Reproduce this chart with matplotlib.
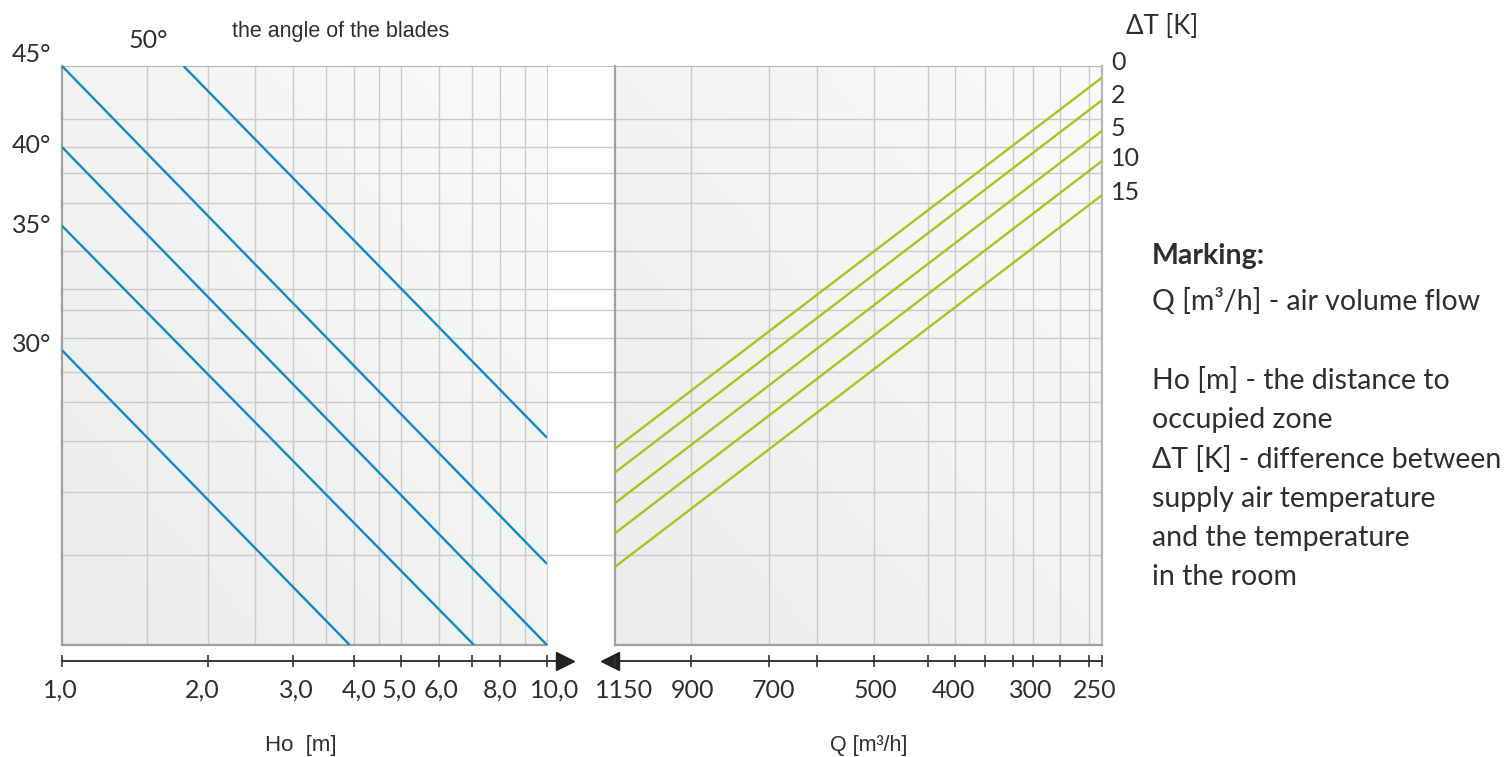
import matplotlib
matplotlib.use("Agg")
import matplotlib.pyplot as plt
import numpy as np
from matplotlib.colors import LinearSegmentedColormap
from matplotlib.ticker import NullLocator, NullFormatter

# ---- data (y in chart units: 0 = bottom, 100 = top) ----
ho_ticks = [1, 2, 3, 4, 5, 6, 7, 8, 10]
ho_labels = ['1,0', '2,0', '3,0', '4,0', '5,0', '6,0', '', '8,0', '10,0']
ho_grid = [1.5, 2, 2.5, 3, 3.5, 4, 4.5, 5, 6, 7, 8, 9]

q_grid = [900, 700, 600, 500, 420, 385, 350, 320, 300, 275, 250]
q_label_pos = [1150, 900, 700, 500, 385, 300, 250]
q_labels = ['1150', '900', '700', '500', '400', '300', '250']
q_min, q_max = 240, 1150

y_grid = [90.8, 86.0, 81.5, 76.3, 68.0, 61.5, 57.9, 53.0, 47.2, 42.0, 35.2, 26.4, 15.5]

blade_angles = ['50°', '45°', '40°', '35°', '30°']
blade_ho_start = [1.78, 1.0, 1.0, 1.0, 1.0]
blade_ho_end = [10.0, 10.0, 10.0, 7.07, 3.92]
blade_y_start = [100, 100, 86.0, 72.4, 50.9]
blade_y_end = [35.8, 14.0, 0, 0, 0]

dt_labels = ['0', '2', '5', '10', '15']
dt_y_at_1150 = [33.9, 29.8, 24.5, 19.3, 13.5]
dt_y_at_240 = [98.0, 94.1, 88.8, 83.6, 77.7]

marking = ["Q [m³/h] - air volume flow", "", "Ho [m] - the distance to", "occupied zone",
           "ΔT [K] - difference between", "supply air temperature",
           "and the temperature", "in the room"]

# ---- styles ----
BLUE = '#1089cf'
GREEN = '#a6c61e'
GRID = '#cbcbcb'
TXT = '#2e2e2e'
NUM_FONT = ['Lato', 'DejaVu Sans']
ARIAL = ['Liberation Sans', 'DejaVu Sans']
CAL = ['Lato', 'DejaVu Sans']
NUM_SIZE = 18

W, H = 1511, 757
fig = plt.figure(figsize=(W / 100, H / 100), dpi=100)


def box(x0, y0, x1, y1):
    return [x0 / W, 1 - y1 / H, (x1 - x0) / W, (y1 - y0) / H]


grad_cmap = LinearSegmentedColormap.from_list('bg', ['#ebecec', '#f9fafa'])
gx, gy = np.meshgrid(np.linspace(0, 1, 200), np.linspace(0, 1, 200))
grad = (gx + gy) / 2

# background axis: horizontal grid continues through the gap
axbg = fig.add_axes(box(62, 66, 1102, 645), zorder=-1)
axbg.set_xlim(0, 1)
axbg.set_ylim(0, 100)
for yv in y_grid:
    axbg.axhline(yv, color=GRID, lw=1.0)
axbg.axhline(100, color='#b5b5b5', lw=1.2)
axbg.axis('off')


def panel(rect):
    ax = fig.add_axes(rect)
    ax.imshow(grad, extent=[0, 1, 0, 1], transform=ax.transAxes, origin='lower',
              aspect='auto', cmap=grad_cmap, zorder=0)
    ax.set_xscale('log')
    ax.set_ylim(0, 100)
    ax.xaxis.set_major_locator(NullLocator())
    ax.xaxis.set_minor_locator(NullLocator())
    ax.xaxis.set_minor_formatter(NullFormatter())
    ax.yaxis.set_major_locator(NullLocator())
    for yv in y_grid:
        ax.axhline(yv, color=GRID, lw=1.0, zorder=1)
    for side in ['left', 'bottom']:
        ax.spines[side].set_color('#a0a0a0')
        ax.spines[side].set_linewidth(1.6)
    ax.spines['top'].set_color('#b5b5b5')
    return ax


# left panel: Ho
axl = panel(box(62, 66, 547, 645))
axl.set_xlim(1, 10)
for xv in ho_grid:
    axl.axvline(xv, color=GRID, lw=1.0, zorder=1)
axl.spines['right'].set_color(GRID)

for hs, he, ys, ye in zip(blade_ho_start, blade_ho_end, blade_y_start, blade_y_end):
    axl.plot([hs, he], [ys, ye], color=BLUE, lw=1.7, zorder=3, solid_capstyle='butt')

angle_offsets = [(-35, 25, 'center'), (-11, 12, 'right'), (-11, 2, 'right'),
                 (-11, 0, 'right'), (-11, 6, 'right')]
for lab, hs, ys, (dx, dy, ha) in zip(blade_angles, blade_ho_start, blade_y_start, angle_offsets):
    axl.annotate(lab, xy=(hs, ys), xytext=(dx, dy), textcoords='offset pixels',
                 ha=ha, va='center', fontsize=NUM_SIZE, color=TXT,
                 family=NUM_FONT, annotation_clip=False)

# right panel: Q (reversed)
axr = panel(box(615, 66, 1102, 645))
axr.set_xlim(q_max, q_min)
for xv in q_grid:
    axr.axvline(xv, color=GRID, lw=1.0, zorder=1)
axr.spines['right'].set_color('#b8b8b8')
axr.spines['right'].set_linewidth(1.6)

for y0, y1 in zip(dt_y_at_1150, dt_y_at_240):
    axr.plot([q_max, q_min], [y0, y1], color=GREEN, lw=1.7, zorder=3, solid_capstyle='butt')

dt_offsets = [15, 5, 2, 2.5, 2.5]
for lab, y1, dy in zip(dt_labels, dt_y_at_240, dt_offsets):
    axr.annotate(lab, xy=(q_min, y1), xytext=(9, dy), textcoords='offset pixels',
                 ha='left', va='center', fontsize=NUM_SIZE, color=TXT,
                 family=NUM_FONT, annotation_clip=False)


# arrow axes below the panels (line at y=0, i.e. axes fraction 0.5)
def arrow_axis(rect, lims, ticks, label_pos, labels, nudges, right):
    ax = fig.add_axes(rect)
    ax.set_xscale('log')
    ax.set_xlim(*lims)
    ax.set_ylim(-1, 1)
    ax.axis('off')
    ax.xaxis.set_minor_locator(NullLocator())
    if right:
        ax.plot([0, 1.025], [0.5, 0.5], transform=ax.transAxes, color='#333', lw=1.4,
                clip_on=False)
        ax.plot([1.037], [0.5], transform=ax.transAxes, marker='>', ms=13, color='#222',
                clip_on=False, ls='none')
    else:
        ax.plot([-0.02, 1], [0.5, 0.5], transform=ax.transAxes, color='#333', lw=1.4,
                clip_on=False)
        ax.plot([-0.0103], [0.5], transform=ax.transAxes, marker='<', ms=13, color='#222',
                clip_on=False, ls='none')
    ax.plot(ticks, np.zeros(len(ticks)), ls='none', marker='|', ms=9, mew=1.2,
            color='#333', clip_on=False)
    for p, lab, dx in zip(label_pos, labels, nudges):
        ax.annotate(lab, xy=(p, 0), xytext=(dx, -29), textcoords='offset pixels',
                    ha='center', va='center', fontsize=NUM_SIZE,
                    color=TXT, family=NUM_FONT, annotation_clip=False)
    return ax


arrow_axis(box(62, 656, 547, 666), (1, 10), ho_ticks, ho_ticks, ho_labels,
           [-2, -6, 3, 5, -2, 2, 0, 0, 8], True)
arrow_axis(box(615, 656, 1102, 666), (q_max, q_min), [q_max] + q_grid + [q_min],
           q_label_pos, q_labels, [9, 1, 4, 1, -2, -2, 5], False)

# titles and annotations
fig.text(232 / W, 1 - 32 / H, 'the angle of the blades', ha='left', va='center',
         fontsize=15.5, color=TXT, family=ARIAL)
fig.text(301 / W, 1 - 746 / H, 'Ho  [m]', ha='center', va='center',
         fontsize=16, color=TXT, family=ARIAL)
fig.text(869 / W, 1 - 746 / H, 'Q [m³/h]', ha='center', va='center',
         fontsize=15.5, color=TXT, family=ARIAL)
fig.text(1126 / W, 1 - 27 / H, 'ΔT [K]', ha='left', va='center',
         fontsize=18.5, color=TXT, family=CAL)

fig.text(1152 / W, 1 - 256 / H, 'Marking:', ha='left', va='center',
         fontsize=20.5, fontweight='bold', color=TXT, family=CAL)
for i, line in enumerate(marking):
    fig.text(1152 / W, 1 - (302 + i * 39.3) / H, line, ha='left', va='center',
             fontsize=20.5, color=TXT, family=CAL)

fig.savefig('out.png', dpi=100, facecolor='white')
